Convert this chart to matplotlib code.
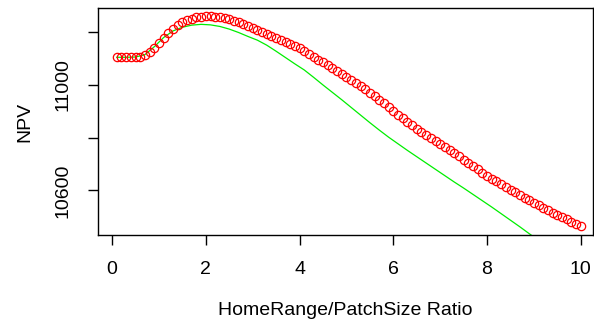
import numpy as np
import matplotlib
matplotlib.use('Agg')
import matplotlib.pyplot as plt

plt.rcParams['font.family'] = ['Liberation Sans', 'DejaVu Sans']

# red points, x = 0.1 .. 10 step 0.1
ratio = np.round(np.arange(1, 101) * 0.1, 1)
npv_red = [11105, 11105, 11105, 11105, 11106, 11108, 11113, 11124, 11140, 11160,
           11180, 11198, 11214, 11227, 11238, 11246, 11252, 11257, 11259, 11260,
           11260, 11259, 11257, 11254, 11249, 11244, 11238, 11232, 11225, 11218,
           11210, 11202, 11195, 11187, 11179, 11171, 11163, 11155, 11147, 11139,
           11128, 11117, 11107, 11096, 11086, 11075, 11064, 11053, 11042, 11030,
           11019, 11007, 10995, 10983, 10970, 10957, 10943, 10930, 10916, 10902,
           10888, 10874, 10861, 10847, 10834, 10822, 10810, 10799, 10788, 10777,
           10765, 10753, 10741, 10729, 10717, 10705, 10692, 10680, 10668, 10656,
           10645, 10634, 10624, 10613, 10603, 10593, 10583, 10573, 10564, 10554,
           10545, 10535, 10526, 10516, 10507, 10498, 10490, 10481, 10473, 10465]

# green line, x = 0.1 .. 9.9 step 0.2
ratio_g = np.round(np.arange(0, 50) * 0.2 + 0.1, 1)
npv_green = [11105, 11105, 11106, 11115, 11145, 11180, 11205, 11219, 11227, 11230,
             11228, 11222, 11212, 11199, 11184, 11170, 11151, 11128, 11104, 11080,
             11057, 11029, 11000, 10972, 10944, 10915, 10886, 10857, 10829, 10802,
             10777, 10752, 10728, 10704, 10680, 10656, 10632, 10609, 10585, 10561,
             10537, 10512, 10487, 10462, 10436, 10410, 10384, 10358, 10333, 10308]

fig = plt.figure(figsize=(5.94, 3.22), dpi=100)
ax = fig.add_axes([98/594, (322-235)/322, (593-98)/594, (235-8)/322])

ax.plot(ratio_g, npv_green, color='#00ee00', lw=0.9)
ax.plot(ratio, npv_red, 'o', mfc='none', mec='red', ms=6, mew=0.9)

ax.set_xlim(-0.30, 10.26)
ax.set_ylim(10431, 11292)
ax.set_xticks([0, 2, 4, 6, 8, 10])
ax.set_yticks([10600, 10800, 11000, 11200])
ax.set_yticklabels(['10600', '', '11000', ''], rotation=90, va='center')
ax.tick_params(direction='out', length=7, width=1, labelsize=14, pad=12)
ax.tick_params(axis='x', pad=12)
for s in ax.spines.values():
    s.set_linewidth(1)
ax.set_xlabel('HomeRange/PatchSize Ratio', fontsize=14, labelpad=17)
ax.set_ylabel('NPV', fontsize=14, labelpad=15)

fig.savefig('out.png', dpi=100)
